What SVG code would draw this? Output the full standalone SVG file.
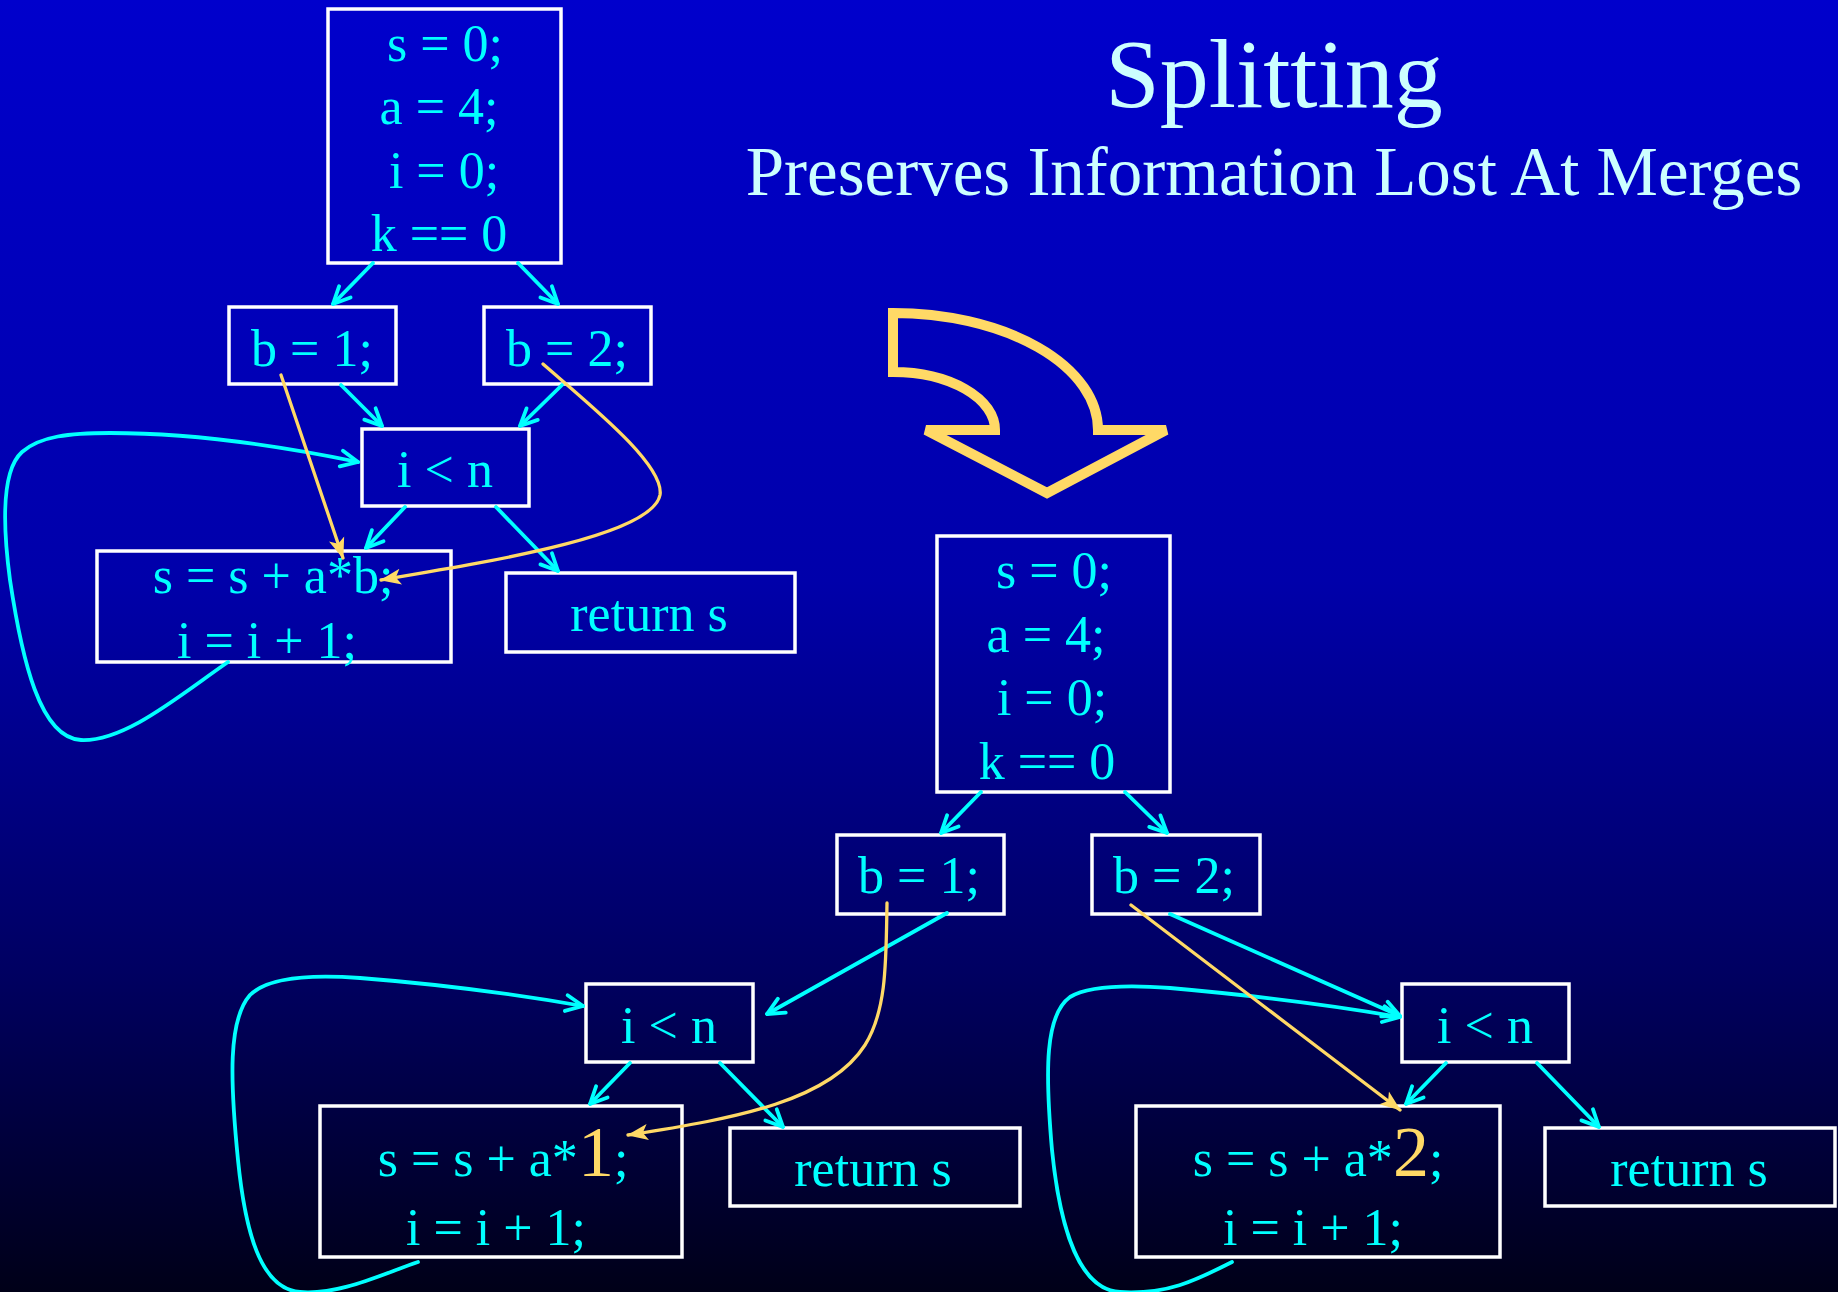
<svg xmlns="http://www.w3.org/2000/svg" width="1838" height="1292" viewBox="0 0 1838 1292">
<defs>
<linearGradient id="bg" x1="0" y1="0" x2="0" y2="1">
<stop offset="0" stop-color="#0000CC"/>
<stop offset="0.45" stop-color="#0000AA"/>
<stop offset="0.75" stop-color="#000062"/>
<stop offset="1" stop-color="#000018"/>
</linearGradient>
<marker id="ca" viewBox="0 0 22 22" refX="20" refY="11" markerWidth="22" markerHeight="22" markerUnits="userSpaceOnUse" orient="auto">
<path d="M3,3 L20,11 L3,19" fill="none" stroke="#00FFFF" stroke-width="3.8" stroke-linecap="round" stroke-linejoin="round"/>
</marker>
<marker id="ya" viewBox="0 0 22 22" refX="20" refY="11" markerWidth="22" markerHeight="22" markerUnits="userSpaceOnUse" orient="auto">
<path d="M0,3 L21,11 L0,19 L5,11 Z" fill="#FFD966"/>
</marker>
<style>
.box{fill:none;stroke:#FFFFFF;stroke-width:3.5}
.t{font-family:"Liberation Serif","Times New Roman",serif;font-size:52px;fill:#00FFFF;text-anchor:middle}
.big{font-size:72px;fill:#FFD966}
.c{fill:none;stroke:#00FFFF;stroke-width:3.8;stroke-linecap:round;marker-end:url(#ca)}
.y{fill:none;stroke:#FFD966;stroke-width:3.3;stroke-linecap:round;marker-end:url(#ya)}
.title{font-family:"Liberation Serif","Times New Roman",serif;fill:#CCFFFF;text-anchor:middle}
</style>
</defs>
<rect x="0" y="0" width="1838" height="1292" fill="url(#bg)"/>

<g id="title">
<text class="title" x="1274" y="107" font-size="98">Splitting</text>
<text class="title" x="1274" y="195" font-size="69">Preserves Information Lost At Merges</text>
</g>

<g id="big-arrow">
<path d="M893,313 A205 117 0 0 1 1098,430 L1166,430 L1047,493 L926,430 L995,430 A102 58 0 0 0 893,372 Z" fill="none" stroke="#FFD966" stroke-width="10" stroke-linejoin="miter"/>
</g>

<!-- Left graph nodes -->
<g id="L_init">
<rect class="box" x="328" y="9" width="233" height="254"/>
<text class="t" x="445" y="61">s = 0;</text>
<text class="t" x="439" y="124">a = 4;</text>
<text class="t" x="444" y="188">i = 0;</text>
<text class="t" x="439" y="251">k == 0</text>
</g>
<g id="L_b1">
<rect class="box" x="229" y="307" width="167" height="77"/>
<text class="t" x="312" y="366">b = 1;</text>
</g>
<g id="L_b2">
<rect class="box" x="484" y="307" width="167" height="77"/>
<text class="t" x="567" y="366">b = 2;</text>
</g>
<g id="L_loop">
<rect class="box" x="362" y="429" width="167" height="77"/>
<text class="t" x="445" y="487">i &lt; n</text>
</g>
<g id="L_body">
<rect class="box" x="97" y="551" width="354" height="111"/>
<text class="t" x="273" y="593">s = s + a*b;</text>
<text class="t" x="267" y="658">i = i + 1;</text>
</g>
<g id="L_ret">
<rect class="box" x="506" y="573" width="289" height="79"/>
<text class="t" x="649" y="631">return s</text>
</g>

<!-- Right graph nodes -->
<g id="R_init">
<rect class="box" x="937" y="536" width="233" height="256"/>
<text class="t" x="1054" y="588">s = 0;</text>
<text class="t" x="1046" y="652">a = 4;</text>
<text class="t" x="1052" y="715">i = 0;</text>
<text class="t" x="1047" y="779">k == 0</text>
</g>
<g id="R_b1">
<rect class="box" x="837" y="835" width="167" height="79"/>
<text class="t" x="919" y="893">b = 1;</text>
</g>
<g id="R_b2">
<rect class="box" x="1092" y="835" width="168" height="79"/>
<text class="t" x="1174" y="893">b = 2;</text>
</g>
<g id="R_loop1">
<rect class="box" x="586" y="984" width="167" height="78"/>
<text class="t" x="669" y="1043">i &lt; n</text>
</g>
<g id="R_body1">
<rect class="box" x="320" y="1106" width="362" height="151"/>
<text class="t" x="503" y="1176">s = s + a*<tspan class="big">1</tspan>;</text>
<text class="t" x="496" y="1245">i = i + 1;</text>
</g>
<g id="R_ret1">
<rect class="box" x="730" y="1128" width="290" height="78"/>
<text class="t" x="873" y="1186">return s</text>
</g>
<g id="R_loop2">
<rect class="box" x="1402" y="984" width="167" height="78"/>
<text class="t" x="1485" y="1043">i &lt; n</text>
</g>
<g id="R_body2">
<rect class="box" x="1136" y="1106" width="364" height="151"/>
<text class="t" x="1318" y="1176">s = s + a*<tspan class="big">2</tspan>;</text>
<text class="t" x="1313" y="1245">i = i + 1;</text>
</g>
<g id="R_ret2">
<rect class="box" x="1545" y="1128" width="290" height="78"/>
<text class="t" x="1689" y="1186">return s</text>
</g>

<g id="connectors">
<path class="c" d="M373,263 L333,304"/>
<path class="c" d="M518,263 L558,304"/>
<path class="c" d="M341,385 L382,426"/>
<path class="c" d="M562,385 L520,426"/>
<path class="c" d="M228,662 C180,695 125,742 81,740 C40,738 22,660 10,580 C2,520 2,470 22,452 C40,436 70,433 110,433 C200,433 290,448 358,462"/>
<path class="c" d="M405,507 L366,548"/>
<path class="c" d="M496,507 L558,571"/>

<path class="c" d="M981,792 L941,833"/>
<path class="c" d="M1125,792 L1167,833"/>
<path class="c" d="M947,913 L767,1014"/>
<path class="c" d="M630,1063 L590,1104"/>
<path class="c" d="M720,1063 L783,1127"/>
<path class="c" d="M418,1262 C380,1275 340,1295 300,1292 C260,1289 245,1230 238,1160 C230,1080 228,1020 250,995 C270,975 320,975 360,978 C450,985 520,995 583,1006"/>
<path class="c" d="M1170,914 L1400,1016"/>
<path class="c" d="M1446,1063 L1406,1104"/>
<path class="c" d="M1537,1063 L1599,1127"/>
<path class="c" d="M1232,1262 C1200,1278 1170,1295 1120,1292 C1080,1290 1060,1230 1052,1150 C1045,1070 1045,1015 1070,997 C1090,985 1130,985 1170,988 C1260,996 1330,1005 1400,1017"/>

<path class="y" d="M281,375 L343,558"/>
<path class="y" d="M543,364 C590,405 665,465 660,495 C652,535 500,560 381,580"/>
<path class="y" d="M887,903 C886,960 887,1010 865,1045 C830,1100 740,1118 628,1135"/>
<path class="y" d="M1131,905 L1400,1110"/>
</g>
</svg>
